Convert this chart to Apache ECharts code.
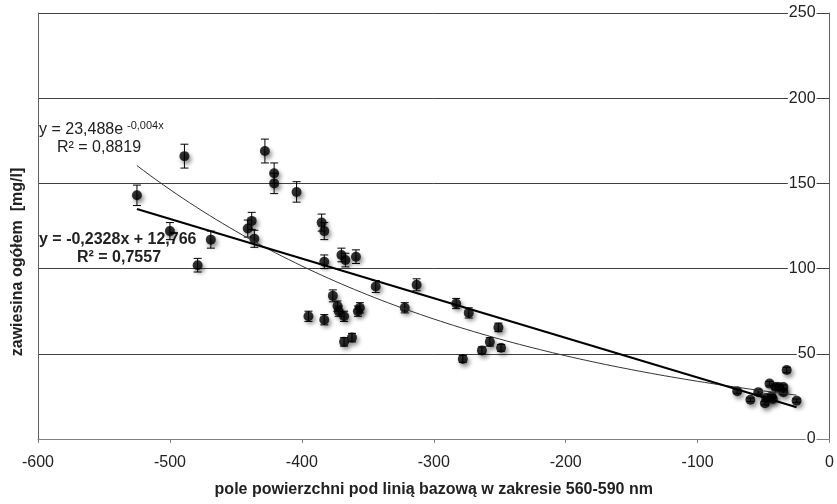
<!DOCTYPE html>
<html><head><meta charset="utf-8">
<script src="https://cdn.jsdelivr.net/npm/echarts@6/dist/echarts.min.js"></script>
<style>html,body{margin:0;padding:0;background:#fff}#c{width:837px;height:504px}</style>
</head><body><div id="c"></div>
<script>
// measured points (x: pole powierzchni, y: zawiesina ogółem)
const xVals = [-525,-489,-500,-469,-479,-428,-421,-421,-404,-438,-441,-436,-395,-385,-383,-383,-370,-367,-359,-344,-313,-283,-273.5,-251,-383,-376.5,-373,-372,-368,-357.5,-356,-368,-362,-322,-278,-263.5,-257.5,-249,-70,-60,-54,-49,-48,-45.5,-44,-43,-41,-38.5,-35,-35,-32.5,-25];
const yVals = [143,166,122,117,102,169,156,150,145,128,123.5,117.5,72,127,122,104,108,105,107,89.5,90.5,79.5,74,65.5,70,84,78,75,72,75,77,57,59.5,77,47,52,57,53.5,28,23,27.5,21,24,32.5,25,23.5,30.5,30.5,30.5,27.5,40.5,22.5];
const yErr  = [6,7,5,5,4,7,6,6,6,5,5,5,3,5,5,4,4,4,4,3.5,3.5,3,3,2.5,3,3.5,3,3,3,3,3,2.5,2.5,3,2,2,2.5,2,1.2,1,1.2,1,1,1.3,1,1,1.2,1.2,1.2,1.1,1.6,1];
const xTicks = [-600,-500,-400,-300,-200,-100,0];
const yTicks = [0,50,100,150,200,250];
// trendlines shown on the chart
const linSlope = -0.2328, linIntercept = 12.766;   // y = -0,2328x + 12,766
const expCoef = 23.488, expRate = -0.00366;        // y = 23,488e^(-0,004x)
const trendFrom = -525, trendTo = -25;

const pts = xVals.map((x,i)=>[x,yVals[i]]);
const errData = xVals.map((x,i)=>[x,yVals[i]-yErr[i],yVals[i]+yErr[i]]);
const linLine = [[trendFrom, linSlope*trendFrom+linIntercept],[trendTo, linSlope*trendTo+linIntercept]];
const expLine = [];
for (let x=trendFrom; x<=trendTo; x+=5) expLine.push([x, expCoef*Math.exp(expRate*x)]);

const chart = echarts.init(document.getElementById('c'), null, {renderer:'canvas'});
const font = 'Arial, "Liberation Sans", sans-serif';
chart.setOption({
  animation:false,
  backgroundColor:'#fff',
  grid:{left:38,right:7,top:13,bottom:65},
  xAxis:{type:'value',min:xTicks[0],max:xTicks[xTicks.length-1],interval:100,
    axisLine:{onZero:false,lineStyle:{color:'#808080',width:1}},
    axisTick:{show:true,length:4,lineStyle:{color:'#808080'}},
    splitLine:{show:false},
    axisLabel:{color:'#222',fontSize:16,fontFamily:font,margin:16},
    name:'pole powierzchni pod linią bazową w zakresie 560-590 nm',nameLocation:'middle',nameGap:43,
    nameTextStyle:{color:'#222',fontSize:16,fontWeight:'bold',fontFamily:font}},
  yAxis:[{type:'value',position:'right',min:yTicks[0],max:yTicks[yTicks.length-1],interval:50,
    axisLine:{show:true,lineStyle:{color:'#606060',width:1}},
    axisTick:{show:false},
    splitLine:{show:true,lineStyle:{color:'#404040',width:1}},
    axisLabel:{inside:true,margin:13,color:'#222',fontSize:16,fontFamily:font,backgroundColor:'#fff',padding:[0,1]}},
   {type:'value',position:'left',min:0,max:250,interval:50,
    axisLine:{show:true,lineStyle:{color:'#606060',width:1}},
    axisTick:{show:false},axisLabel:{show:false},splitLine:{show:false}}],
  graphic:[
    {type:'text',x:18,y:262,rotation:Math.PI/2,
     style:{text:'zawiesina ogółem  [mg/l]',font:'bold 16px '+font,fill:'#222',align:'center',verticalAlign:'middle'}},
    {type:'text',x:39,y:122,style:{text:'y = 23,488e',font:'16px '+font,fill:'#222'}},
    {type:'text',x:127,y:120,style:{text:'-0,004x',font:'11px '+font,fill:'#222'}},
    {type:'text',x:57,y:140,style:{text:'R² = 0,8819',font:'16px '+font,fill:'#222'}},
    {type:'text',x:39,y:232,style:{text:'y = -0,2328x + 12,766',font:'bold 16px '+font,fill:'#222'}},
    {type:'text',x:77,y:250,style:{text:'R² = 0,7557',font:'bold 16px '+font,fill:'#222'}}
  ],
  series:[
    {type:'custom',name:'err',data:errData,z:3,
     renderItem:function(params,api){
       const x=api.value(0);
       const lo=api.coord([x,api.value(1)]), hi=api.coord([x,api.value(2)]);
       const c=4;
       return {type:'group',children:[
         {type:'line',shape:{x1:lo[0],y1:lo[1],x2:hi[0],y2:hi[1]},style:{stroke:'#000',lineWidth:1}},
         {type:'line',shape:{x1:lo[0]-c,y1:lo[1],x2:lo[0]+c,y2:lo[1]},style:{stroke:'#000',lineWidth:1}},
         {type:'line',shape:{x1:hi[0]-c,y1:hi[1],x2:hi[0]+c,y2:hi[1]},style:{stroke:'#000',lineWidth:1}}
       ]};
     }},
    {type:'scatter',data:pts,symbol:'circle',symbolSize:10,z:4,
     itemStyle:{color:'#000',shadowBlur:4,shadowColor:'rgba(0,0,0,0.55)',shadowOffsetX:2,shadowOffsetY:3}},
    {type:'line',data:expLine,showSymbol:false,symbol:'none',z:5,smooth:false,
     lineStyle:{color:'#333',width:1}},
    {type:'line',data:linLine,showSymbol:false,symbol:'none',z:5,
     lineStyle:{color:'#000',width:2}}
  ]
});
</script></body></html>
